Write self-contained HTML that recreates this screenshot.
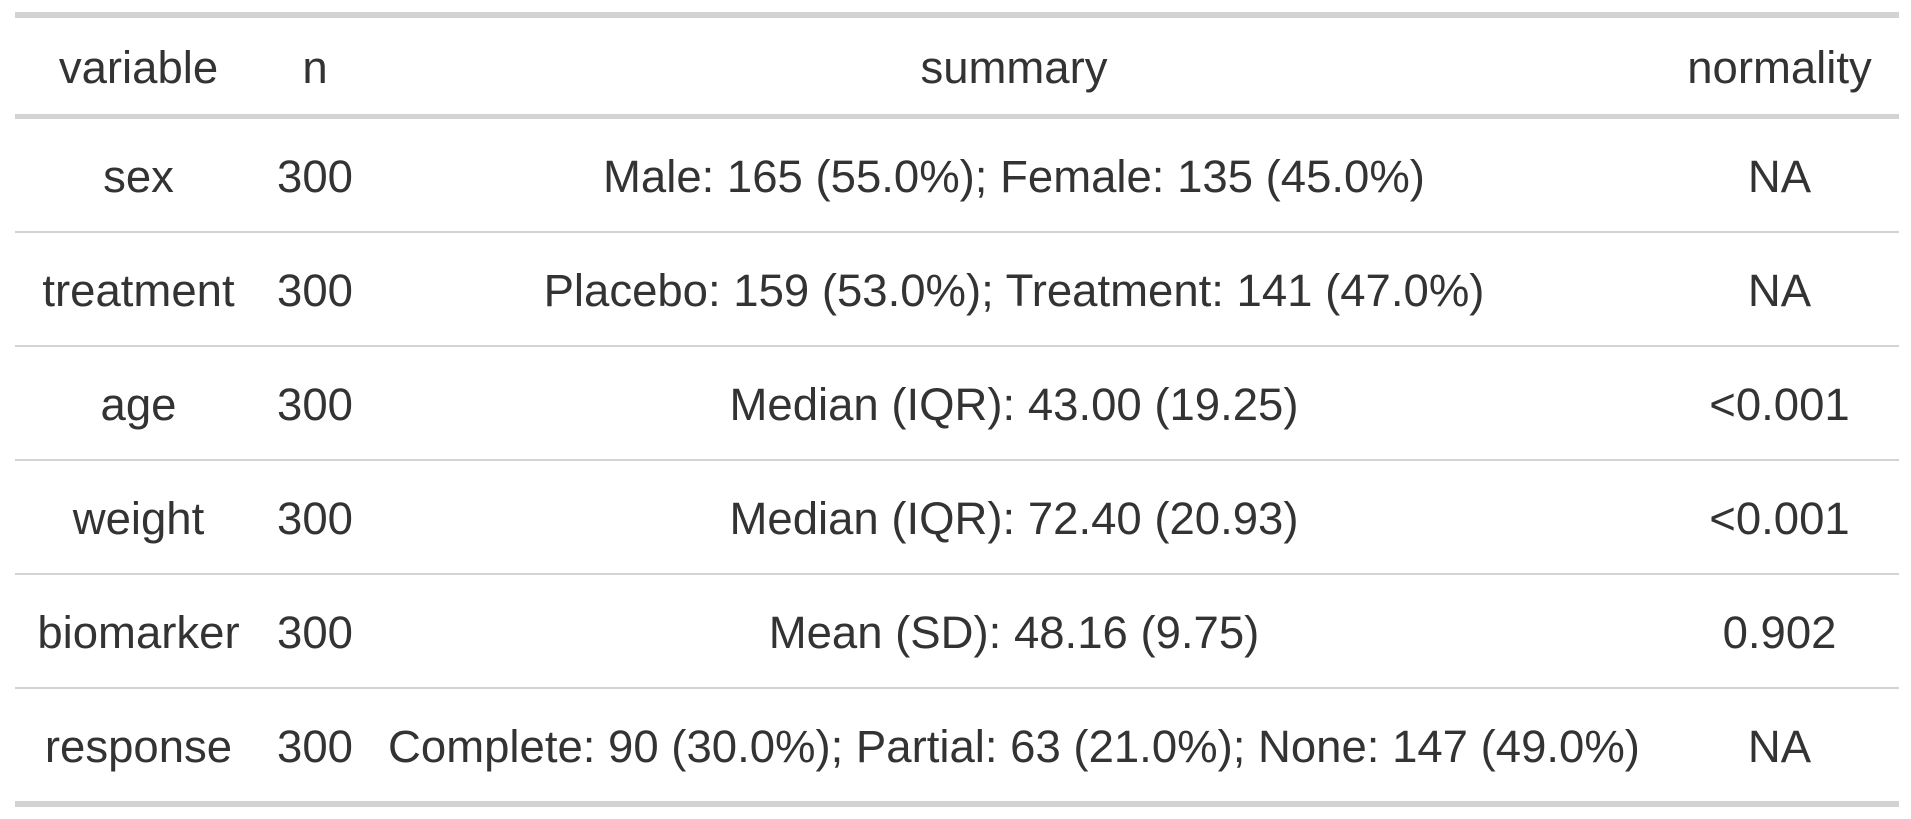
<!DOCTYPE html>
<html><head><meta charset="utf-8"><style>
html,body{margin:0;padding:0;background:#fff;width:1911px;height:819px;overflow:hidden}
table{position:absolute;left:15px;top:12px;border-collapse:collapse;table-layout:fixed;width:1884px;
font-family:"Liberation Sans",sans-serif;font-size:45.5px;color:#333;border-top:6px solid #d3d3d3;border-bottom:6px solid #d3d3d3}
td,th{text-align:center;font-weight:normal;padding:0;white-space:nowrap}
th{height:92px;border-bottom:5px solid #d3d3d3;padding-top:4px}
td{height:108px;border-top:2px solid #d3d3d3;padding-top:4px}
tr:nth-child(2) td{border-top:none}
</style></head><body>
<table>
<colgroup><col style="width:247px"><col style="width:106px"><col style="width:1292px"><col style="width:239px"></colgroup>
<tr><th>variable</th><th>n</th><th>summary</th><th>normality</th></tr>
<tr><td>sex</td><td>300</td><td>Male: 165 (55.0%); Female: 135 (45.0%)</td><td>NA</td></tr>
<tr><td>treatment</td><td>300</td><td>Placebo: 159 (53.0%); Treatment: 141 (47.0%)</td><td>NA</td></tr>
<tr><td>age</td><td>300</td><td>Median (IQR): 43.00 (19.25)</td><td>&lt;0.001</td></tr>
<tr><td>weight</td><td>300</td><td>Median (IQR): 72.40 (20.93)</td><td>&lt;0.001</td></tr>
<tr><td>biomarker</td><td>300</td><td>Mean (SD): 48.16 (9.75)</td><td>0.902</td></tr>
<tr><td>response</td><td>300</td><td>Complete: 90 (30.0%); Partial: 63 (21.0%); None: 147 (49.0%)</td><td>NA</td></tr>
</table>
</body></html>
